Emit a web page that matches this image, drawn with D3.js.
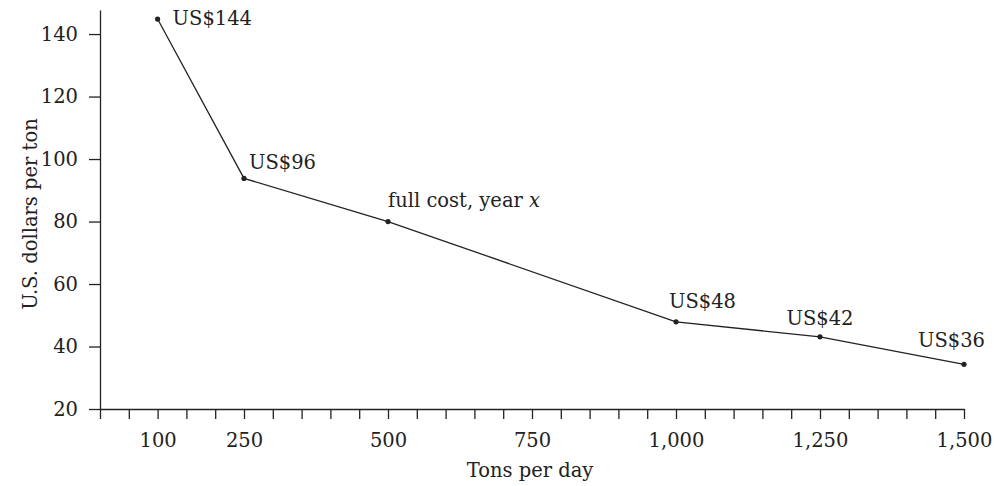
<!DOCTYPE html>
<html>
<head>
<meta charset="utf-8">
<script src="https://cdn.jsdelivr.net/npm/d3@7"></script>
<style>
  body { margin: 0; background: #fff; }
  svg text { font-family: "DejaVu Serif", serif; fill: #222; }
</style>
</head>
<body>
<svg id="chart" width="994" height="486"></svg>
<script>
// data
var tons = [100, 250, 500, 1000, 1250, 1500];
var cost = [144.8, 93.8, 80, 47.9, 43.1, 34.3];
var pointLabels = ["US$144", "US$96", "full cost, year ", "US$48", "US$42", "US$36"];
var xTickLabels = [100, 250, 500, 750, 1000, 1250, 1500];
var yTicks = [20, 40, 60, 80, 100, 120, 140];

// where each label sits relative to its point
var labelPos = [
  {dx: 15, dy: 6, anchor: "start"},
  {dx: 5, dy: -9, anchor: "start"},
  {dx: 0, dy: -15, anchor: "start"},
  {dx: -7, dy: -14, anchor: "start"},
  {dx: 0, dy: -12, anchor: "middle"},
  {dx: 21, dy: -17, anchor: "end"}
];

var svg = d3.select("#chart"),
    fontSize = 19.5;

var x = d3.scaleLinear().domain([0, 1500]).range([100, 964]);
var y = d3.scaleLinear().domain([20, 147.7]).range([409, 10]);

var xAxis = d3.axisBottom(x)
    .tickValues(d3.range(0, 1501, 50))
    .tickSize(10)
    .tickSizeOuter(0)
    .tickPadding(14)
    .tickFormat(function(d) { return xTickLabels.indexOf(d) >= 0 ? d3.format(",")(d) : ""; });

var gx = svg.append("g")
    .attr("transform", "translate(0," + y(20) + ")")
    .call(xAxis);

var yAxis = d3.axisLeft(y)
    .tickValues(yTicks)
    .tickSize(11)
    .tickSizeOuter(0)
    .tickPadding(11);

var gy = svg.append("g")
    .attr("transform", "translate(" + x(0) + ",0)")
    .call(yAxis);

svg.selectAll(".domain, .tick line").attr("stroke", "#222").attr("stroke-width", 1.3);
svg.selectAll(".tick text")
    .attr("font-size", fontSize)
    .attr("font-family", null)
    .style("fill", "#222");

// axis titles
svg.append("text")
    .attr("x", 530)
    .attr("y", 476.5)
    .attr("text-anchor", "middle")
    .attr("font-size", fontSize)
    .text("Tons per day");

svg.append("text")
    .attr("transform", "translate(36.5,214) rotate(-90)")
    .attr("text-anchor", "middle")
    .attr("font-size", fontSize)
    .text("U.S. dollars per ton");

var data = tons.map(function(t, i) { return {t: t, c: cost[i], label: pointLabels[i], pos: labelPos[i]}; });

var line = d3.line()
    .x(function(d) { return x(d.t); })
    .y(function(d) { return y(d.c); });

svg.append("path")
    .datum(data)
    .attr("fill", "none")
    .attr("stroke", "#222")
    .attr("stroke-width", 1.3)
    .attr("d", line);

svg.selectAll(".pt")
    .data(data)
  .enter().append("circle")
    .attr("class", "pt")
    .attr("cx", function(d) { return x(d.t); })
    .attr("cy", function(d) { return y(d.c); })
    .attr("r", 2.6)
    .attr("fill", "#222");

var lbl = svg.selectAll(".lbl")
    .data(data)
  .enter().append("text")
    .attr("class", "lbl")
    .attr("x", function(d) { return x(d.t) + d.pos.dx; })
    .attr("y", function(d) { return y(d.c) + d.pos.dy; })
    .attr("text-anchor", function(d) { return d.pos.anchor; })
    .attr("font-size", fontSize)
    .text(function(d) { return d.label; });

// italic x for the year label
lbl.filter(function(d, i) { return i === 2; })
  .append("tspan")
    .attr("font-style", "italic")
    .text("x");
</script>
</body>
</html>
